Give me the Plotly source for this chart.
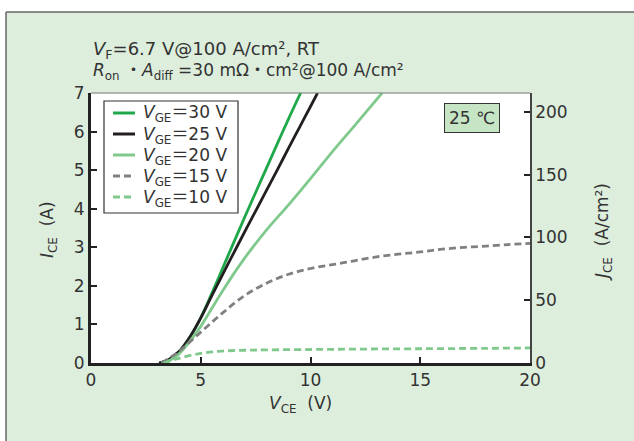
import plotly.graph_objects as go

# ---- data (V_CE in V, I_CE in A) ----
v30 = [3.1, 3.5, 4.0, 4.5, 5.0, 5.5, 6.0, 6.5, 7.0, 7.5, 8.0, 8.5, 9.0, 9.55]
i30 = [0.0, 0.07, 0.29, 0.67, 1.17, 1.8, 2.46, 3.12, 3.78, 4.42, 5.06, 5.7, 6.33, 7.0]

v25 = [3.1, 3.5, 4.0, 4.5, 5.0, 5.5, 6.0, 6.5, 7.0, 7.5, 8.0, 8.5, 9.0, 9.5, 10.0, 10.32]
i25 = [0.0, 0.07, 0.29, 0.67, 1.17, 1.74, 2.3, 2.85, 3.4, 3.94, 4.48, 5.02, 5.57, 6.11, 6.65, 7.0]

v20 = [3.2, 3.6, 4.0, 4.5, 5.0, 5.5, 6.0, 6.5, 7.0, 8.0, 9.0, 10.0, 11.0, 12.0, 13.26]
i20 = [0.0, 0.07, 0.23, 0.56, 0.95, 1.41, 1.87, 2.31, 2.72, 3.45, 4.1, 4.78, 5.48, 6.15, 7.0]

v15 = [3.2, 4.0, 5.0, 6.0, 7.0, 8.0, 9.0, 10.0, 11.0, 12.0, 13.0, 14.0, 15.0, 16.0, 17.0, 18.0, 19.0, 20.0]
i15 = [0.0, 0.3, 0.8, 1.3, 1.75, 2.07, 2.3, 2.45, 2.55, 2.65, 2.75, 2.82, 2.88, 2.95, 3.0, 3.03, 3.07, 3.1]

v10 = [3.3, 4.0, 5.0, 6.0, 7.0, 8.0, 10.0, 12.0, 15.0, 18.0, 20.0]
i10 = [0.0, 0.12, 0.25, 0.31, 0.33, 0.34, 0.35, 0.36, 0.37, 0.38, 0.39]

vge_labels = ["30", "25", "20", "15", "10"]

x_ticks = [0, 5, 10, 15, 20]
y_ticks = [0, 1, 2, 3, 4, 5, 6, 7]
j_ticks = [0, 50, 100, 150, 200]
j_max = 215.0

FONT = "DejaVu Sans, Noto Sans CJK JP, sans-serif"
TXT = "#333333"
BG = "#ddeedd"
GREEN = "#1ea84a"
LGREEN = "#80c98c"
GRAY = "#808080"
BLACK = "#231f20"
DASH = "7px,4px"

W, H = 634, 441
L, R, T, B = 91, 104, 93, 78
pw, ph = W - L - R, H - T - B


def px(x):
    return (x - L) / pw


def py(y):
    return (H - B - y) / ph


fig = go.Figure()
series = [
    (v30, i30, GREEN, "solid"),
    (v25, i25, BLACK, "solid"),
    (v20, i20, LGREEN, "solid"),
    (v15, i15, GRAY, DASH),
    (v10, i10, LGREEN, DASH),
]
for (xs, ys, col, dash), lab in zip(series, vge_labels):
    fig.add_trace(go.Scatter(x=xs, y=ys, mode="lines", name="V_GE=" + lab + " V", showlegend=False,
                             line=dict(color=col, width=2.8, dash=dash, shape="spline", smoothing=1.0)))

# invisible trace for the right axis
fig.add_trace(go.Scatter(x=[0], y=[0], yaxis="y2", mode="markers",
                         marker=dict(opacity=0), showlegend=False, hoverinfo="skip"))

shapes = [
    dict(type="rect", xref="paper", yref="paper", x0=px(0), x1=px(W), y0=py(0), y1=py(12),
         fillcolor="white", line=dict(width=0), layer="below"),
    dict(type="rect", xref="paper", yref="paper", x0=px(0), x1=px(6), y0=py(0), y1=py(H),
         fillcolor="white", line=dict(width=0), layer="below"),
    dict(type="line", xref="paper", yref="paper", x0=px(6), x1=px(W + 5), y0=py(12), y1=py(12),
         line=dict(color="#666666", width=1.5)),
    dict(type="line", xref="paper", yref="paper", x0=px(6), x1=px(6), y0=py(12), y1=py(H + 5),
         line=dict(color="#666666", width=1.5)),
    dict(type="line", xref="paper", yref="paper", x0=0, x1=1, y0=1, y1=1,
         line=dict(color="#777777", width=1.2)),
    # legend box
    dict(type="rect", xref="paper", yref="paper", x0=px(104), x1=px(238), y0=py(101), y1=py(213),
         fillcolor="white", line=dict(color="#333333", width=1.2), layer="above"),
]

annotations = [
    dict(text="<i>V</i><sub>F</sub>=6.7 V@100 A/cm², RT", x=px(91), y=py(50), xref="paper", yref="paper",
         xanchor="left", yanchor="middle", showarrow=False, font=dict(size=18, color=TXT, family=FONT)),
    dict(text="<i>R</i><sub>on</sub> ・<i>A</i><sub>diff</sub> =30 mΩ・cm²@100 A/cm²", x=px(91), y=py(71),
         xref="paper", yref="paper", xanchor="left", yanchor="middle", showarrow=False,
         font=dict(size=17, color=TXT, family=FONT)),
    dict(text="25 ℃", x=px(472), y=py(118), xref="paper", yref="paper", xanchor="center", yanchor="middle",
         showarrow=False, bgcolor="#c5e5c5", bordercolor="#333333", borderwidth=1, borderpad=4,
         font=dict(size=17, color=TXT, family=FONT)),
    dict(text="<i>V</i><sub>CE</sub>  (V)", x=px(300), y=py(405), xref="paper", yref="paper",
         xanchor="center", yanchor="middle", showarrow=False, font=dict(size=17, color=TXT, family=FONT)),
    dict(text="<i>I</i><sub>CE</sub>  (A)", x=px(48), y=py(230), xref="paper", yref="paper",
         xanchor="center", yanchor="middle", showarrow=False, textangle=-90,
         font=dict(size=17, color=TXT, family=FONT)),
    dict(text="<i>J</i><sub>CE</sub>  (A/cm²)", x=px(603), y=py(232), xref="paper", yref="paper",
         xanchor="center", yanchor="middle", showarrow=False, textangle=-90,
         font=dict(size=17, color=TXT, family=FONT)),
]

# manual legend entries (inside the legend box)
row0, row_gap = 113, 21
for k, ((xs, ys, col, dash), lab) in enumerate(zip(series, vge_labels)):
    yy = row0 + k * row_gap
    shapes.append(dict(type="line", xref="paper", yref="paper", x0=px(113), x1=px(135),
                       y0=py(yy), y1=py(yy), line=dict(color=col, width=3, dash=dash), layer="above"))
    annotations.append(dict(text="<i>V</i><sub>GE</sub>＝" + lab + " V", x=px(141), y=py(yy + 1),
                            xref="paper", yref="paper", xanchor="left", yanchor="middle", showarrow=False,
                            font=dict(size=17, color=TXT, family=FONT)))

fig.update_layout(
    width=W, height=H,
    margin=dict(l=L, r=R, t=T, b=B, pad=0),
    paper_bgcolor=BG, plot_bgcolor="white",
    font=dict(family=FONT, color=TXT, size=17),
    shapes=shapes, annotations=annotations,
    showlegend=False,
    xaxis=dict(range=[0, 20], tickvals=x_ticks, ticks="inside", ticklen=6, tickwidth=1.5,
               tickcolor="#222222", showline=True, linewidth=3, linecolor="#222222",
               showgrid=False, zeroline=False, tickfont=dict(size=17, color=TXT)),
    yaxis=dict(range=[0, 7], tickvals=y_ticks, ticks="inside", ticklen=6, tickwidth=1.5,
               tickcolor="#222222", showline=True, linewidth=3, linecolor="#222222",
               showgrid=False, zeroline=False, tickfont=dict(size=17, color=TXT)),
    yaxis2=dict(range=[0, j_max], tickvals=j_ticks, overlaying="y", side="right",
                ticks="inside", ticklen=6, tickwidth=1.5, tickcolor="#222222",
                showline=True, linewidth=1.5, linecolor="#444444",
                showgrid=False, zeroline=False, tickfont=dict(size=17, color=TXT)),
)

fig.write_html("out.html", config={"displayModeBar": False},
               post_script="document.body.style.margin='0px';")
